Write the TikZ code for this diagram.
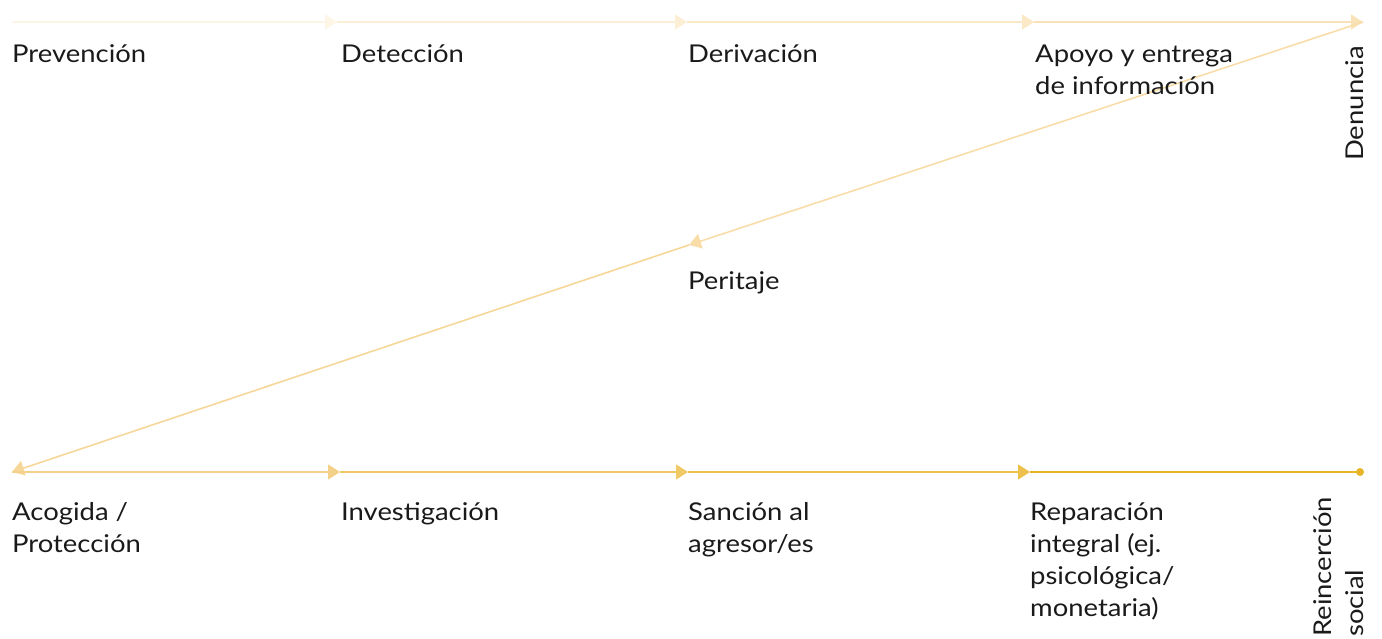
\documentclass[tikz,border=0pt]{standalone}
\usepackage{fontspec}
\setmainfont{Lato}[FakeStretch=1.12]
\usetikzlibrary{arrows.meta}
\definecolor{c1}{HTML}{FDF5E6}
\definecolor{c2}{HTML}{FCEFD6}
\definecolor{c3}{HTML}{FBE8C6}
\definecolor{c4}{HTML}{F9E2B6}
\definecolor{c5}{HTML}{F8DDA8}
\definecolor{c6}{HTML}{F6D799}
\definecolor{c7}{HTML}{F3D188}
\definecolor{c8}{HTML}{F0C966}
\definecolor{c9}{HTML}{EDC04C}
\definecolor{c10}{HTML}{E8B428}
\definecolor{txt}{HTML}{1A1A1A}
\tikzset{
  seg/.style={line width=1.6pt,-{Triangle[length=12pt,width=15pt]}},
  lbl/.style={anchor=base west,inner sep=0pt,align=left,text=txt,
    font=\fontsize{24.5}{32}\selectfont},
  vlbl/.style={lbl,rotate=90},
}
\begin{document}
\begin{tikzpicture}[x=1pt,y=-1pt]
\useasboundingbox (0,0) rectangle (1382,639);
% line points
\coordinate (t0) at (12,22);
\coordinate (t1) at (337,22);
\coordinate (t2) at (687,22);
\coordinate (t3) at (1034,22);
\coordinate (t4) at (1363,22);
\coordinate (m) at (689,245);
\coordinate (b0) at (12,472);
\coordinate (b1) at (340,472);
\coordinate (b2) at (688,472);
\coordinate (b3) at (1030,472);
\coordinate (b4) at (1360,472);
\draw[seg,c1] (t0) -- (t1);
\draw[seg,c2] (t1) -- (t2);
\draw[seg,c3] (t2) -- (t3);
\draw[seg,c4] (t3) -- (t4);
\draw[seg,c5] (t4) -- (m);
\draw[seg,c6] (m) -- (b0);
\draw[seg,c7] (b0) -- (b1);
\draw[seg,c8] (b1) -- (b2);
\draw[seg,c9] (b2) -- (b3);
\draw[line width=1.6pt,c10] (b3) -- (b4);
\fill[c10] (b4) circle (4pt);
% labels (base = baseline of last line)
\node[lbl] (prev) at (12,63) {Prevención};
\node[lbl] (dete) at (341,63) {Detección};
\node[lbl] (deri) at (688,63) {Derivación};
\node[lbl] (apoy) at (1035,95) {Apoyo y entrega\\de información};
\node[vlbl] (denu) at (1363,161) {Denuncia};
\node[lbl] (peri) at (688,290) {Peritaje};
\node[lbl] (acog) at (12,552) {Acogida /\\Protección};
\node[lbl] (inve) at (341,520) {Investigación};
\node[lbl] (sanc) at (688,552) {Sanción al\\agresor/es};
\node[lbl] (repa) at (1030,616) {Reparación\\integral (ej.\\psicológica/\\monetaria)};
\node[vlbl] (rein) at (1363,637) {Reincerción\\social};
\end{tikzpicture}
\end{document}
